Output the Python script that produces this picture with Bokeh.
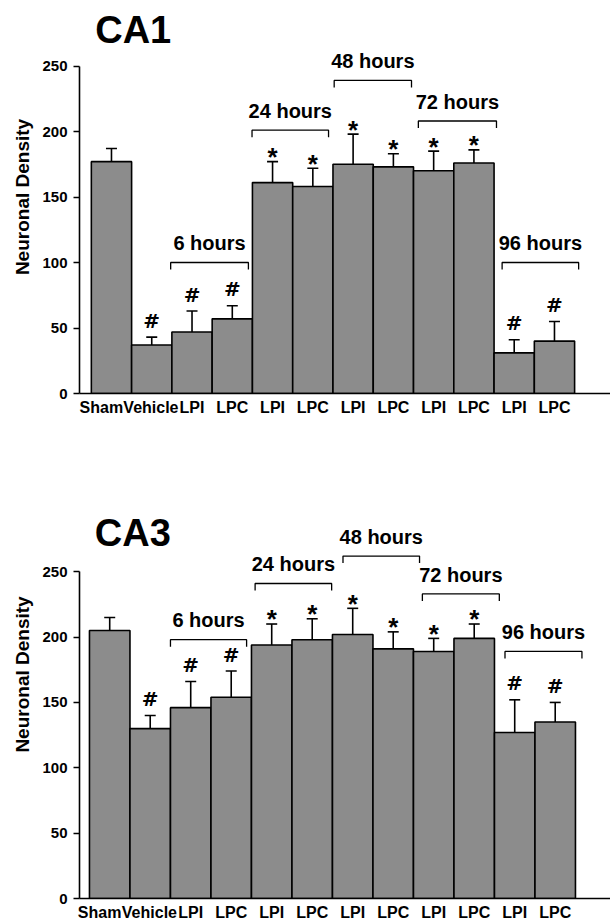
from bokeh.plotting import figure
from bokeh.models import Range1d, FixedTicker, Whisker, TeeHead, ColumnDataSource
from bokeh.layouts import column
from bokeh.embed import file_html
from bokeh.resources import INLINE
from bokeh.core.properties import value

# ---------------- data ----------------
groups = ["Sham", "Vehicle", "LPI", "LPC", "LPI", "LPC", "LPI", "LPC", "LPI", "LPC", "LPI", "LPC"]
ca1_mean = [177, 37, 47, 57, 161, 158, 175, 173, 170, 176, 31, 40]
ca1_err = [10, 6, 16, 10, 16, 14, 23, 10, 15, 10, 10, 15]
ca3_mean = [205, 130, 146, 154, 194, 198, 202, 191, 189, 199, 127, 135]
ca3_err = [10, 10, 20, 20, 16, 16, 20, 13, 10, 11, 25, 15]
marks = ["", "#", "#", "#", "*", "*", "*", "*", "*", "*", "#", "#"]
time_labels = ["6 hours", "24 hours", "48 hours", "72 hours", "96 hours"]
y_ticks = [0, 50, 100, 150, 200, 250]

# ---------------- annotation layout ----------------
label_pos = [-0.25, 0.98, 2, 3, 4, 5, 6, 7, 8, 9, 10, 11]
ca1_bracket_level = [100, 201, 239, 208, 100]
ca1_bracket_span = [(1.47, 3.40), (3.49, 5.39), (5.53, 7.45), (7.62, 9.56), (9.70, 11.60)]
ca3_bracket_level = [198, 241, 262, 233, 189]
ca3_bracket_span = [(1.50, 3.38), (3.59, 5.48), (5.76, 7.65), (7.72, 9.62), (9.76, 11.66)]

FONT = "Liberation Sans"
BAR_COLOR = "#8c8c8c"
PX_PER_UNIT = 1.31
BASE_FIX = 0.37  # empirical baseline correction (fraction of font size)


def make_panel(title, title_x, title_y, means, errs, levels, spans,
               x_start, left_border, height, bottom_border):
    frame_h = height - bottom_border
    frame_w = 610 - left_border
    y_end = frame_h / PX_PER_UNIT
    x_end = x_start + frame_w / 40.5
    p = figure(width=610, height=height,
               x_range=Range1d(x_start, x_end), y_range=Range1d(0, y_end),
               output_backend="svg", toolbar_location=None,
               min_border_left=left_border, min_border_right=0,
               min_border_top=0, min_border_bottom=bottom_border)
    p.outline_line_color = None
    p.grid.visible = False
    p.background_fill_color = "white"

    px = lambda v: v / PX_PER_UNIT

    def txt(xs, ys, texts, size, font=FONT):
        p.text(x=xs, y=[y + px(BASE_FIX * size) for y in ys], text=texts,
               text_align="center", text_baseline="alphabetic",
               text_font=value(font), text_font_style="bold",
               text_font_size=f"{size}px", text_color="black")

    idx = list(range(len(means)))
    p.vbar(x=idx, top=means, bottom=0, width=1.0, fill_color=BAR_COLOR,
           line_color="black", line_width=1.6)

    upper = [m + e for m, e in zip(means, errs)]
    src = ColumnDataSource(dict(base=idx, lower=means, upper=upper))
    w = Whisker(base="base", lower="lower", upper="upper", source=src,
                line_color="black", line_width=1.6,
                upper_head=TeeHead(size=11, line_color="black", line_width=1.6),
                lower_head=None)
    p.add_layout(w)

    # significance marks
    hx = [i for i in idx if marks[i] == "#"]
    txt(hx, [upper[i] + px(9) for i in hx], ["#"] * len(hx), 20, "DejaVu Sans")
    sx = [i for i in idx if marks[i] == "*"]
    txt(sx, [upper[i] - px(5) for i in sx], ["*"] * len(sx), 26)

    # time brackets
    tick = px(7)
    xs = [[s, s, e, e] for s, e in spans]
    ys = [[l - tick, l, l, l - tick] for l in levels]
    p.multi_line(xs=xs, ys=ys, line_color="black", line_width=1.3)
    txt([(s + e) / 2 for s, e in spans], [l + px(12) for l in levels],
        time_labels, 20)

    # panel title
    txt([title_x], [title_y], [title], 38)

    # axes
    xa = p.xaxis[0]
    xa.ticker = FixedTicker(ticks=label_pos)
    xa.major_label_overrides = {t: g for t, g in zip(label_pos, groups)}
    xa.major_tick_line_color = None
    xa.major_tick_out = 0
    xa.major_tick_in = 0
    xa.minor_tick_line_color = None
    xa.axis_line_width = 1.6
    xa.major_label_standoff = 5
    xa.major_label_text_font = FONT
    xa.major_label_text_font_style = "bold"
    xa.major_label_text_font_size = "16px"
    xa.major_label_text_color = "black"

    ya = p.yaxis[0]
    ya.ticker = FixedTicker(ticks=y_ticks)
    ya.bounds = (0, 250)
    ya.minor_tick_line_color = None
    ya.major_tick_out = 6
    ya.major_tick_in = 0
    ya.major_tick_line_width = 1.4
    ya.axis_line_width = 1.6
    ya.major_label_standoff = 6
    ya.major_label_text_font = FONT
    ya.major_label_text_font_style = "bold"
    ya.major_label_text_font_size = "15px"
    ya.major_label_text_color = "black"
    ya.axis_label = "Neuronal Density"
    ya.axis_label_text_font = FONT
    ya.axis_label_text_font_style = "bold"
    ya.axis_label_text_font_size = "19px"
    ya.axis_label_text_color = "black"
    ya.axis_label_standoff = 6
    return p


p1 = make_panel("CA1", 0.54, 267, ca1_mean, ca1_err, ca1_bracket_level,
                ca1_bracket_span, -0.794, 76, 450, 57)
p3 = make_panel("CA3", 0.57, 269, ca3_mean, ca3_err, ca3_bracket_level,
                ca3_bracket_span, -0.746, 79, 473, 24)

layout = column(p1, p3)
open("out.html", "w").write(file_html(layout, INLINE))
